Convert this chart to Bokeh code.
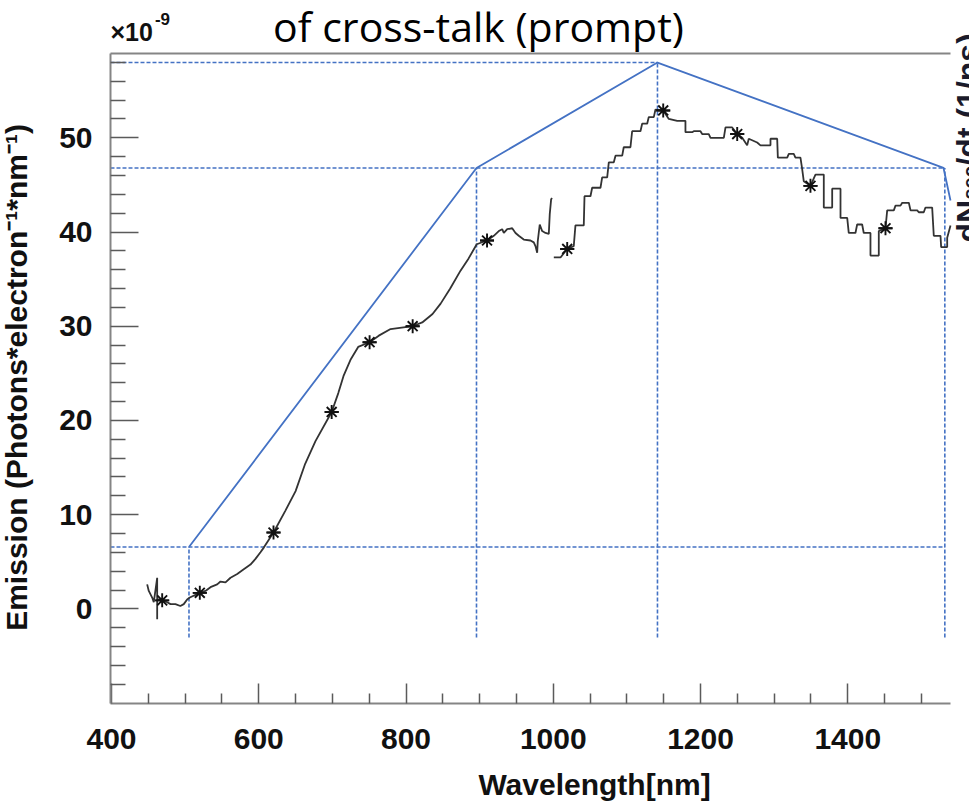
import math

from bokeh.embed import file_html
from bokeh.models import FixedTicker, Label, LinearAxis, Range1d
from bokeh.plotting import figure
from bokeh.resources import INLINE

# ---- emission spectrum (units of 1e-9 photons / electron / nm) ----
# visible spectrometer range
vis_nm = [448.4, 450.6, 455.2, 457.4, 462.0, 462.0, 462.0, 466.5, 468.8, 475.6,
          480.1, 486.8, 493.5, 498.1, 502.7, 506.3, 519.9, 527.6, 534.4, 543.5,
          548.0, 554.8, 561.6, 570.7, 579.6, 588.7, 595.5, 602.3, 606.8, 620.0,
          636.0, 650.0, 663.0, 677.0, 699.0, 708.0, 715.0, 725.0, 735.0, 750.5,
          763.0, 779.0, 809.0, 822.0, 836.0, 847.0, 860.0, 874.0, 885.0, 896.0,
          910.0, 919.2, 926.0, 930.6, 932.8, 937.4, 944.2, 948.7, 953.1, 959.9,
          969.0, 973.5, 975.8, 978.1, 978.9, 981.6, 984.9, 989.4, 993.9, 995.2,
          997.1, 998.5]
vis_val = [2.6, 1.9, 1.2, 0.7, 3.3, -1.1, 1.0, 1.0, 0.9, 0.7,
           0.5, 0.5, 0.3, 0.5, 1.0, 1.2, 1.7, 1.9, 2.3, 2.6,
           2.9, 2.8, 3.3, 3.7, 4.2, 4.7, 5.3, 6.0, 6.5, 8.1,
           10.4, 12.5, 15.4, 17.8, 20.9, 22.9, 24.7, 26.5, 27.8, 28.3,
           29.0, 29.7, 30.0, 30.4, 31.3, 32.4, 34.0, 35.9, 37.2, 38.7,
           39.1, 39.6, 40.1, 40.3, 39.9, 40.3, 40.4, 39.9, 39.6, 39.2,
           39.1, 38.9, 38.5, 37.8, 39.0, 40.8, 40.1, 39.9, 39.8, 41.9,
           43.5, 43.6]

# infrared spectrometer range (stepped histogram)
ir_nm = [1000.7, 1009.8, 1018.9, 1027.8, 1030.1, 1041.4, 1042.4, 1050.5, 1052.8, 1064.1,
         1066.4, 1073.2, 1075.4, 1082.2, 1084.5, 1093.6, 1095.7, 1104.8, 1107.1, 1118.4,
         1120.7, 1127.5, 1129.7, 1136.5, 1138.8, 1149.3, 1156.9, 1168.3, 1179.5, 1179.5,
         1188.6, 1190.8, 1199.9, 1202.2, 1211.2, 1213.5, 1231.6, 1233.9, 1243.0, 1249.8,
         1256.6, 1263.3, 1265.5, 1276.9, 1281.4, 1295.0, 1295.0, 1304.1, 1305.0, 1317.7,
         1319.9, 1326.6, 1328.9, 1335.7, 1338.0, 1340.2, 1349.3, 1356.1, 1367.4, 1367.4,
         1378.8, 1378.8, 1390.1, 1390.1, 1399.2, 1401.3, 1410.4, 1412.7, 1419.5, 1421.7,
         1430.8, 1430.8, 1442.1, 1442.1, 1451.2, 1453.5, 1462.5, 1464.8, 1471.6, 1473.9,
         1482.9, 1485.2, 1494.3, 1496.4, 1503.2, 1505.5, 1514.6, 1516.8, 1525.9, 1526.8,
         1535.0, 1535.0, 1539.5]
ir_val = [37.3, 37.3, 38.2, 38.5, 40.7, 40.7, 43.8, 43.8, 44.7, 44.7,
          45.8, 45.8, 47.4, 47.4, 48.1, 48.1, 49.0, 49.0, 50.7, 50.7,
          51.5, 51.5, 52.2, 52.2, 53.0, 52.9, 52.0, 51.8, 51.8, 50.6,
          50.6, 50.7, 50.7, 50.4, 50.4, 50.0, 50.0, 51.1, 51.1, 50.4,
          50.0, 49.2, 49.9, 49.5, 49.2, 49.2, 49.9, 49.9, 47.9, 47.9,
          48.3, 48.3, 47.9, 47.9, 46.7, 45.4, 44.9, 46.1, 46.1, 42.6,
          42.6, 44.6, 44.6, 41.5, 41.5, 39.9, 39.9, 40.8, 40.8, 39.9,
          39.9, 37.5, 37.5, 40.1, 40.4, 42.3, 42.3, 42.8, 42.8, 43.1,
          43.1, 42.3, 42.3, 42.1, 42.1, 42.6, 42.6, 39.6, 39.6, 38.4,
          38.4, 39.4, 40.7]

# marked sample points
mark_nm = [468.8, 519.9, 620.0, 699.0, 750.5, 809.0, 910.0, 1018.9, 1149.3, 1249.8, 1349.3, 1451.2]
mark_val = [0.9, 1.7, 8.1, 20.9, 28.3, 30.0, 39.1, 38.2, 52.9, 50.4, 44.9, 40.4]

# envelope of the secondary-photon time distribution
env_nm = [505.2, 895.7, 1141.5, 1530.0, 1539.5]
env_val = [6.56, 46.80, 57.99, 46.80, 43.35]
guide_levels = [57.99, 46.80, 6.56]
guide_level_end = [1141.5, 1531.8, 1531.8]
guide_nm = [505.2, 895.7, 1141.5, 1531.8]
guide_nm_top = [6.56, 46.80, 57.99, 46.80]
guide_bottom = -3.04

# axis ticks
x_ticks = [400, 600, 800, 1000, 1200, 1400]
x_minor = [450, 500, 550, 650, 700, 750, 850, 900, 950, 1050, 1100, 1150, 1250, 1300, 1350, 1450, 1500]
y_ticks = [0, 10, 20, 30, 40, 50]
y_minor = [v for v in range(-8, 60, 2) if v % 10 != 0]

# histogram frame and full drawing area (data units)
FX0, FX1 = 398.6, 1539.5
FY0, FY1 = -10.05, 58.95
CX0, CX1 = 249.2, 1565.3
CY0, CY1 = -21.30, 64.576

BLUE = "#4472C4"
AXIS_GREY = "#858585"
TICK_GREY = "#5a5a5a"
FONT = "Liberation Sans"
INK = "#111111"

p = figure(width=969, height=809, x_range=Range1d(CX0, CX1), y_range=Range1d(CY0, CY1),
           output_backend="svg", toolbar_location=None, min_border=0)
p.title.visible = False
p.background_fill_color = "white"
p.border_fill_color = "white"
p.outline_line_color = None
p.xgrid.visible = False
p.ygrid.visible = False

xa = p.xaxis[0]
xa.fixed_location = FY0
xa.bounds = (FX0, FX1)
xa.ticker = FixedTicker(ticks=x_ticks, minor_ticks=x_minor)
xa.major_tick_in = 20
xa.major_tick_out = 0
xa.minor_tick_in = 10
xa.minor_tick_out = 0
xa.major_label_standoff = 25

ya = p.yaxis[0]
ya.fixed_location = FX0
ya.bounds = (FY0, FY1)
ya.ticker = FixedTicker(ticks=y_ticks, minor_ticks=y_minor)
ya.major_tick_in = 28
ya.major_tick_out = 0
ya.minor_tick_in = 15
ya.minor_tick_out = 0
ya.major_label_standoff = 18

for ax in (xa, ya):
    ax.axis_line_color = AXIS_GREY
    ax.axis_line_width = 2
    ax.major_tick_line_color = TICK_GREY
    ax.major_tick_line_width = 1.5
    ax.minor_tick_line_color = TICK_GREY
    ax.minor_tick_line_width = 1.5
    ax.major_label_text_font = FONT
    ax.major_label_text_font_size = "30px"
    ax.major_label_text_font_style = "bold"
    ax.major_label_text_color = INK

# top edge of the histogram frame
top = LinearAxis(fixed_location=FY1, bounds=(FX0, FX1), ticker=FixedTicker(ticks=[]),
                 major_label_text_font_size="0px", axis_line_color=AXIS_GREY, axis_line_width=2,
                 major_tick_line_color=None, minor_tick_line_color=None)
p.add_layout(top, "above")

# guide lines
for lvl, end in zip(guide_levels, guide_level_end):
    p.line([FX0, end], [lvl, lvl], line_color=BLUE, line_width=1.6, line_dash="4 2")
for xv, ytop in zip(guide_nm, guide_nm_top):
    p.line([xv, xv], [guide_bottom, ytop], line_color=BLUE, line_width=1.6, line_dash="4 2")
p.line(env_nm, env_val, line_color=BLUE, line_width=1.8)

# spectrum
p.line(vis_nm, vis_val, line_color="#333333", line_width=1.8)
p.line(ir_nm, ir_val, line_color="#333333", line_width=1.8)
p.scatter(mark_nm, mark_val, marker="asterisk", size=14, line_color=INK, line_width=1.9)
p.scatter(mark_nm, mark_val, marker="dash", size=14, line_color=INK, line_width=1.9)

# texts
p.add_layout(Label(x=898.4, y=61.85, text="of cross-talk (prompt)", text_align="center",
                   text_baseline="alphabetic", text_font="Open Sans", text_font_size="41px",
                   text_color="black"))
p.add_layout(Label(x=398.6, y=61.18, text="×10", text_align="left", text_baseline="alphabetic",
                   text_font=FONT, text_font_size="25px", text_font_style="bold", text_color=INK))
p.add_layout(Label(x=458.9, y=62.56, text="-9", text_align="left", text_baseline="alphabetic",
                   text_font=FONT, text_font_size="17px", text_font_style="bold", text_color=INK))
p.add_layout(Label(x=270.9, y=24.56, angle=math.pi / 2, text="Emission (Photons*electron⁻¹*nm⁻¹)",
                   text_align="center", text_baseline="alphabetic", text_font=FONT,
                   text_font_size="30px", text_font_style="bold", text_color=INK))
p.add_layout(Label(x=1056.0, y=-18.64, text="Wavelength[nm]", text_align="center",
                   text_baseline="alphabetic", text_font=FONT, text_font_size="30px",
                   text_font_style="bold", text_color=INK))

# right-hand axis title of the overlaid time distribution
p.add_layout(Label(x=1563.9, y=38.89, angle=math.pi / 2, text="dN", text_align="left",
                   text_baseline="alphabetic", text_font=FONT, text_font_size="32px",
                   text_font_style="bold", text_color="#1a1a2a"))
p.add_layout(Label(x=1565.3, y=43.45, angle=math.pi / 2, text="sec", text_align="left",
                   text_baseline="alphabetic", text_font=FONT, text_font_size="20px",
                   text_font_style="bold", text_color="#1a1a2a"))
p.add_layout(Label(x=1563.9, y=46.95, angle=math.pi / 2, text="/dt (1/ns)", text_align="left",
                   text_baseline="alphabetic", text_font=FONT, text_font_size="32px",
                   text_font_style="bold", text_color="#1a1a2a"))

open("out.html", "w").write(file_html(p, INLINE))
